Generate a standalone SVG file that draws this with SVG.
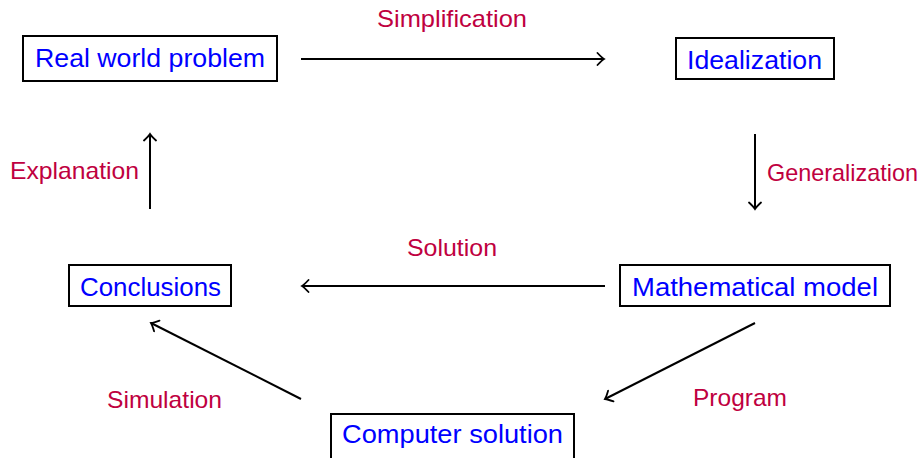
<svg xmlns="http://www.w3.org/2000/svg" width="924" height="458" viewBox="0 0 924 458">
<style>
.box{fill:#fff;stroke:#000;stroke-width:2}
.nt{font-family:"Liberation Sans",Arial,sans-serif;font-size:25px;fill:#0000ff}
.lt{font-family:"Liberation Sans",Arial,sans-serif;font-size:24px;fill:#bf0040}
.ed{stroke:#000;stroke-width:2;fill:none;marker-end:url(#arr)}
</style>
<defs>
<marker id="arr" viewBox="-9 -7 11 14" markerWidth="11" markerHeight="14" refX="0" refY="0" orient="auto" markerUnits="userSpaceOnUse">
<path d="M-6.5,-6 Q-2,-1.2 0,0 Q-2,1.2 -6.5,6" fill="none" stroke="#000" stroke-width="1.8" stroke-linecap="round"/>
</marker>
</defs>
<g id="n-real"><rect class="box" x="23" y="36" width="254" height="45"/><text class="nt" x="35" y="67" textLength="230" lengthAdjust="spacingAndGlyphs">Real world problem</text></g>
<g id="n-ideal"><rect class="box" x="676" y="38" width="158" height="41"/><text class="nt" x="687" y="69" textLength="135" lengthAdjust="spacingAndGlyphs">Idealization</text></g>
<g id="n-concl"><rect class="box" x="69" y="265" width="162" height="41"/><text class="nt" x="80" y="296" textLength="141" lengthAdjust="spacingAndGlyphs">Conclusions</text></g>
<g id="n-math"><rect class="box" x="620" y="265" width="270" height="41"/><text class="nt" x="632" y="296" textLength="246" lengthAdjust="spacingAndGlyphs">Mathematical model</text></g>
<g id="n-comp"><rect class="box" x="331" y="414" width="243" height="48"/><text class="nt" x="342" y="443" textLength="221" lengthAdjust="spacingAndGlyphs">Computer solution</text></g>
<g id="connectors">
<line class="ed" x1="301" y1="59" x2="604" y2="59"/>
<line class="ed" x1="755" y1="134" x2="755" y2="209"/>
<line class="ed" x1="605" y1="286" x2="302" y2="286"/>
<line class="ed" x1="755" y1="323" x2="605" y2="399"/>
<line class="ed" x1="301" y1="399" x2="151" y2="323"/>
<line class="ed" x1="150" y1="209" x2="150" y2="134"/>
</g>
<g id="labels">
<text class="lt" x="377" y="27" textLength="150" lengthAdjust="spacingAndGlyphs">Simplification</text>
<text class="lt" x="767" y="181" textLength="151" lengthAdjust="spacingAndGlyphs">Generalization</text>
<text class="lt" x="407" y="256" textLength="90" lengthAdjust="spacingAndGlyphs">Solution</text>
<text class="lt" x="693" y="406" textLength="94" lengthAdjust="spacingAndGlyphs">Program</text>
<text class="lt" x="107" y="408" textLength="115" lengthAdjust="spacingAndGlyphs">Simulation</text>
<text class="lt" x="10" y="179" textLength="129" lengthAdjust="spacingAndGlyphs">Explanation</text>
</g>
</svg>
